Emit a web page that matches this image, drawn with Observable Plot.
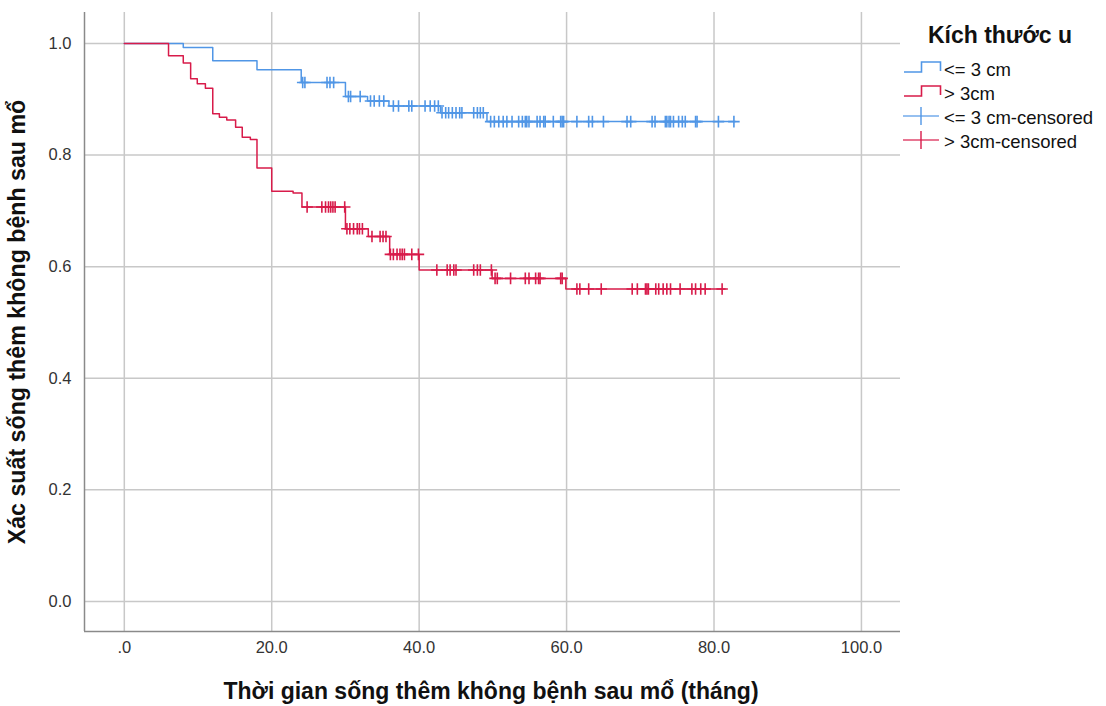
<!DOCTYPE html>
<html><head><meta charset="utf-8">
<script src="https://cdn.jsdelivr.net/npm/d3@7"></script>
<script src="https://cdn.jsdelivr.net/npm/@observablehq/plot@0.6"></script>
<style>body{margin:0;background:#fff;font-family:"Liberation Sans",Arial,sans-serif}</style>
</head><body><div id="chart"></div>
<script>
// ---- data ----
const groupNames = ["<= 3 cm", "> 3cm"];
const legendTitle = "Kích thước u";
const xTitle = "Thời gian sống thêm không bệnh sau mổ (tháng)";
const yTitle = "Xác suất sống thêm không bệnh sau mổ";
const xTicks = [0, 20, 40, 60, 80, 100];
const yTicks = [0, 0.2, 0.4, 0.6, 0.8, 1.0];

// group 1: <= 3 cm  (event times and survival after each event)
const smallTimes = [0, 8.0, 12.0, 18.0, 24.0, 30.0, 33.0, 35.9, 42.9, 49.2];
const smallSurv  = [1, 0.993, 0.969, 0.953, 0.930, 0.905, 0.897, 0.888, 0.876, 0.860];
const smallEnd = 82.9;
const smallCensored = [24.2, 24.5, 27.5, 27.9, 28.4, 30.4, 30.7, 32.0, 33.4, 33.9, 34.6, 35.2,
  36.5, 37.2, 38.6, 39.0, 40.8, 41.5, 42.1, 42.6, 43.1, 43.6, 44.0, 44.5, 45.0, 45.5, 45.8,
  47.4, 47.9, 48.3, 48.7, 49.7, 50.2, 50.8, 51.4, 51.9, 52.6, 53.5, 54.0, 54.4, 54.6, 54.9,
  56.0, 56.4, 56.9, 57.1, 58.2, 59.2, 59.4, 59.6, 61.4, 63.0, 63.5, 65.0, 68.2, 68.7, 71.6,
  72.0, 73.4, 73.6, 73.9, 74.1, 74.5, 75.2, 75.7, 76.1, 77.5, 77.7, 80.6, 82.7];

// group 2: > 3cm
const largeTimes = [0, 6.0, 8.0, 9.0, 9.9, 11.0, 12.0, 12.9, 13.9, 15.1, 16.0, 17.1, 18.0, 20.0,
  22.9, 24.1, 30.0, 33.1, 36.0, 40.0, 49.9, 59.9];
const largeSurv  = [1, 0.978, 0.965, 0.937, 0.928, 0.920, 0.874, 0.868, 0.863, 0.850, 0.832, 0.828,
  0.777, 0.735, 0.732, 0.707, 0.668, 0.654, 0.622, 0.594, 0.579, 0.560];
const largeEnd = 81.5;
const largeCensored = [24.8, 26.8, 27.3, 27.7, 28.0, 28.3, 28.6, 29.9, 30.2, 30.6, 31.1, 31.6,
  31.9, 32.3, 33.6, 34.7, 35.1, 35.5, 36.1, 36.5, 37.0, 37.4, 37.7, 38.0, 39.0, 39.9,
  42.4, 43.8, 44.2, 44.7, 45.0, 47.4, 47.9, 48.3, 49.8, 50.3, 50.6, 52.4, 54.4, 54.9, 55.8,
  56.2, 56.4, 59.2, 59.4, 61.4, 61.8, 63.0, 64.7, 68.9, 69.6, 70.7, 70.9, 71.1, 72.1, 72.5,
  73.1, 73.6, 74.1, 75.4, 77.0, 77.5, 78.2, 78.8, 81.1];

const colors = ["#5096e6", "#d81b4a"];
const xDomain = [-5.4, 105.3];
const yDomain = [-0.054, 1.0556];

// ---- build tables ----
function curve(times, surv, end, g) {
  const pts = times.map((t, i) => ({t, s: surv[i], g}));
  pts.push({t: end, s: surv[surv.length - 1], g});
  return pts;
}
function censor(times, surv, cens, g) {
  return cens.map(c => {
    let s = 1;
    for (let i = 0; i < times.length; i++) if (times[i] <= c) s = surv[i];
    return {t: c, s, g};
  });
}
const lines = [...curve(smallTimes, smallSurv, smallEnd, groupNames[0]),
               ...curve(largeTimes, largeSurv, largeEnd, groupNames[1])];
const marks = [...censor(smallTimes, smallSurv, smallCensored, groupNames[0]),
               ...censor(largeTimes, largeSurv, largeCensored, groupNames[1])];

const W = 1106, H = 706;
const plot = Plot.plot({
  width: W, height: H,
  marginLeft: 84, marginRight: 206, marginTop: 12, marginBottom: 75,
  style: {fontSize: "16.5px", fontFamily: "'Liberation Sans', Arial, sans-serif", color: "#333", background: "#fff"},
  x: {domain: xDomain},
  y: {domain: yDomain},
  color: {domain: groupNames, range: colors},
  marks: [
    Plot.gridX({ticks: xTicks, stroke: "#c8c8c8", strokeOpacity: 1, strokeWidth: 1.5}),
    Plot.gridY({ticks: yTicks, stroke: "#c8c8c8", strokeOpacity: 1, strokeWidth: 1.5}),
    Plot.ruleX([xDomain[0]], {stroke: "#8a8a8a", strokeWidth: 1.5}),
    Plot.ruleY([yDomain[0]], {stroke: "#8a8a8a", strokeWidth: 1.5}),
    Plot.axisX({ticks: xTicks, tickSize: 0, tickPadding: 10, label: null,
      tickFormat: d => d === 0 ? ".0" : d.toFixed(1), fill: "#333"}),
    Plot.axisY({ticks: yTicks, tickSize: 0, tickPadding: 13, label: null,
      tickFormat: d => d.toFixed(1), fill: "#333"}),
    Plot.line(lines, {x: "t", y: "s", z: "g", stroke: "g", curve: "step-after", strokeWidth: 1.5}),
    Plot.dot(marks, {x: "t", y: "s", stroke: "g", symbol: "plus", r: 3.8, strokeWidth: 1.6})
  ]
});
document.getElementById("chart").appendChild(plot);

// ---- titles and legend ----
const svg = d3.select(plot);
svg.append("text").attr("x", 491).attr("y", 699).attr("text-anchor", "middle")
  .attr("font-size", 23).attr("font-weight", "bold").attr("fill", "#111").text(xTitle);
svg.append("text").attr("transform", "translate(25,322) rotate(-90)").attr("text-anchor", "middle")
  .attr("font-size", 23.2).attr("font-weight", "bold").attr("fill", "#111").text(yTitle);

const lg = svg.append("g").attr("text-anchor", "start");
lg.append("text").attr("x", 1000).attr("y", 43).attr("text-anchor", "middle")
  .attr("font-size", 23).attr("font-weight", "bold").attr("fill", "#111").text(legendTitle);
const legendItems = [
  {label: groupNames[0], c: colors[0], kind: "step"},
  {label: groupNames[1], c: colors[1], kind: "step"},
  {label: groupNames[0] + "-censored", c: colors[0], kind: "plus"},
  {label: groupNames[1] + "-censored", c: colors[1], kind: "plus"}
];
legendItems.forEach((it, i) => {
  const cy = 70 + i * 24;
  if (it.kind === "step") {
    lg.append("path").attr("d", `M904,${cy + 2}H921.5V${cy - 8}H940.5V${cy + 1}`)
      .attr("fill", "none").attr("stroke", it.c).attr("stroke-width", 1.6);
  } else {
    lg.append("path").attr("d", `M903,${cy - 2}H939`).attr("stroke", it.c).attr("stroke-opacity", 0.6).attr("stroke-width", 2);
    lg.append("path").attr("d", `M921,${cy - 11}V${cy + 7}`).attr("stroke", it.c).attr("stroke-width", 1.4);
  }
  lg.append("text").attr("x", 944).attr("y", cy + 6).attr("text-anchor", "start")
    .attr("font-size", 18.5).attr("fill", "#111").text(it.label);
});
</script></body></html>
